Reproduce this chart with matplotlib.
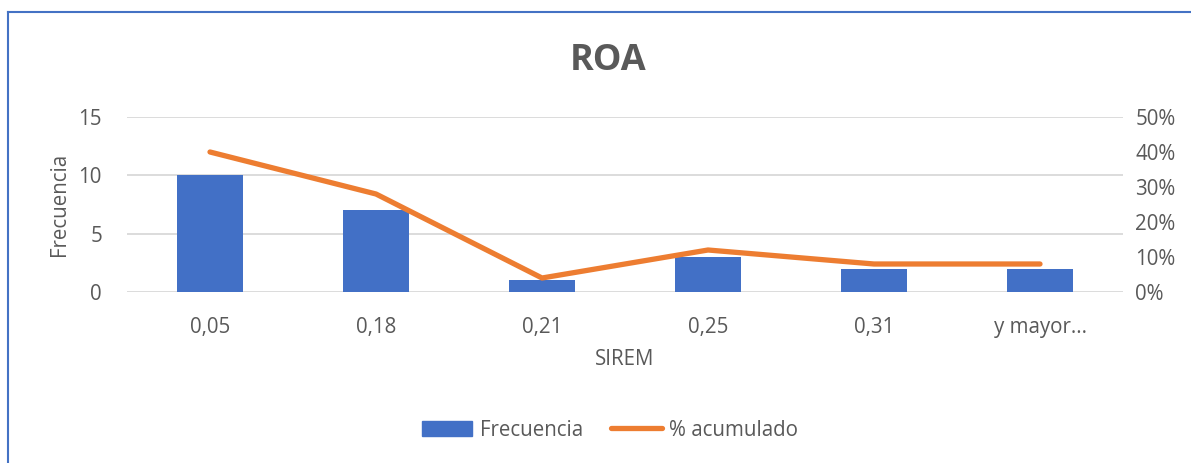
import matplotlib
matplotlib.use("Agg")
import matplotlib.pyplot as plt
from matplotlib.lines import Line2D
from matplotlib.ticker import FuncFormatter
import numpy as np

categories = ["0,05", "0,18", "0,21", "0,25", "0,31", "y mayor..."]
frecuencia = [10, 7, 1, 3, 2, 2]
pct_acumulado = [0.40, 0.28, 0.04, 0.12, 0.08, 0.08]

plt.rcParams['font.family'] = ['Open Sans', 'DejaVu Sans']
txt = '#595959'
fs = 14.8

fig = plt.figure(figsize=(11.91, 4.63), dpi=100)
ax = fig.add_axes([127/1191, 1-292/463, (1123-127)/1191, (292-117)/463])
ax2 = ax.twinx()

x = np.arange(len(categories))
ax.bar(x, frecuencia, width=0.4, color='#4270C6', zorder=3, label='Frecuencia')
ax.set_ylim(0, 15)
ax.set_yticks([0, 5, 10, 15])
ax.set_xlim(-0.5, len(categories)-0.5)
ax.set_xticks(x)
ax.set_xticklabels(categories)
ax.grid(axis='y', color='#D9D9D9', linewidth=1.3, zorder=0)
ax.set_axisbelow(True)

ln, = ax2.plot(x, pct_acumulado, color='#ED7D31', linewidth=3.8,
               solid_capstyle='round', solid_joinstyle='round', zorder=4, label='% acumulado')
ax2.set_ylim(0, 0.5)
ax2.set_yticks([0, 0.1, 0.2, 0.3, 0.4, 0.5])
ax2.yaxis.set_major_formatter(FuncFormatter(lambda v, p: f"{v*100:.0f}%"))

for a in (ax, ax2):
    for s in a.spines.values():
        s.set_visible(False)
    a.tick_params(length=0, colors=txt, labelsize=fs)
ax.tick_params(axis='x', pad=18)
ax.tick_params(axis='y', pad=18)
ax2.tick_params(axis='y', pad=9)

ax.set_xlabel('SIREM', color=txt, fontsize=fs, labelpad=8)
ax.set_ylabel('Frecuencia', color=txt, fontsize=fs, labelpad=6)

fig.text(608/1191, 1-61/463, 'ROA', ha='center', va='center', fontsize=26,
         fontweight='bold', color=txt)

handles = [plt.Rectangle((0, 0), 1, 1, color='#4270C6'),
           Line2D([0], [0], color='#ED7D31', linewidth=3.8, solid_capstyle='round')]
fig.legend(handles, ['Frecuencia', '% acumulado'], loc='center',
           bbox_to_anchor=(610/1191, 1-430/463), ncol=2, frameon=False,
           fontsize=fs, labelcolor=txt, handlelength=2.45, handletextpad=0.35,
           columnspacing=1.4)

fig.add_artist(Line2D([8/1191, 8/1191], [0, 1-12/463], color='#4472C4', linewidth=1.5,
                      transform=fig.transFigure))
fig.add_artist(Line2D([8/1191, 1], [1-12/463, 1-12/463], color='#4472C4', linewidth=1.5,
                      transform=fig.transFigure))

fig.savefig('out.png', dpi=100)
